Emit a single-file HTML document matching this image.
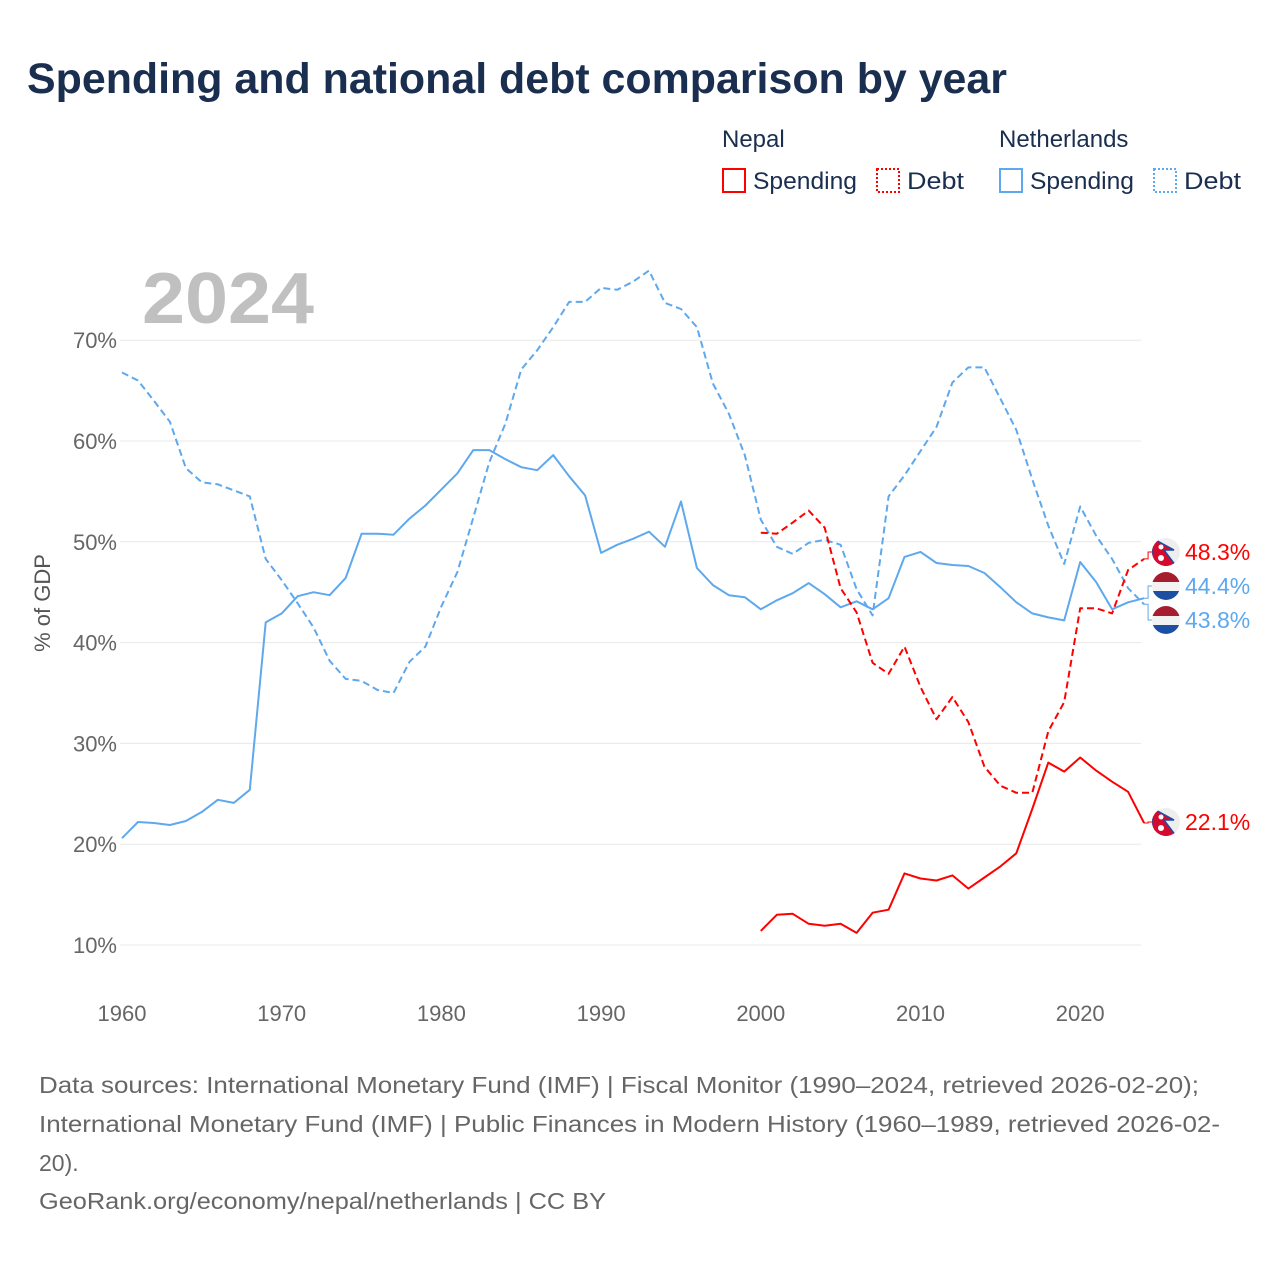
<!DOCTYPE html>
<html><head><meta charset="utf-8"><style>
html,body{margin:0;padding:0;background:#fff}
svg{display:block;font-family:"Liberation Sans",sans-serif}
</style></head><body>
<svg id="chart" width="1280" height="1280" viewBox="0 0 1280 1280">
<text x="27" y="93" font-size="43" font-weight="bold" fill="#1a2e4f" textLength="980" lengthAdjust="spacingAndGlyphs">Spending and national debt comparison by year</text>
<g font-size="24" fill="#1a2e4f">
<text x="722" y="147" fill="#1a2e4f">Nepal</text>
<text x="999" y="147" fill="#1a2e4f">Netherlands</text>
<g><rect x="723" y="169" width="22" height="23" fill="none" stroke="#ff0000" stroke-width="2"/><text x="753" y="189" fill="#1a2e4f" textLength="104" lengthAdjust="spacingAndGlyphs">Spending</text></g>
<g><rect x="877" y="169" width="22" height="23" fill="none" stroke="#ff0000" stroke-width="2" stroke-dasharray="2,2"/><text x="907" y="189" fill="#1a2e4f" textLength="57" lengthAdjust="spacingAndGlyphs">Debt</text></g>
<g><rect x="1000" y="169" width="22" height="23" fill="none" stroke="#5ea8ee" stroke-width="2"/><text x="1030" y="189" fill="#1a2e4f" textLength="104" lengthAdjust="spacingAndGlyphs">Spending</text></g>
<g><rect x="1154" y="169" width="22" height="23" fill="none" stroke="#5ea8ee" stroke-width="2" stroke-dasharray="2,2"/><text x="1184" y="189" fill="#1a2e4f" textLength="57" lengthAdjust="spacingAndGlyphs">Debt</text></g>
</g>
<text x="142" y="323" font-size="72" font-weight="bold" fill="#c0c0c0" textLength="172" lengthAdjust="spacingAndGlyphs">2024</text>
<g id="grid"></g>
<g id="yticks"></g>
<g id="xticks"></g>
<text transform="translate(50,603) rotate(-90)" text-anchor="middle" font-size="22" fill="#555">% of GDP</text>
<g id="series"></g>
<g id="labels"></g>
<g font-size="23" fill="#666">
<text x="39" y="1093" textLength="1160" lengthAdjust="spacingAndGlyphs">Data sources: International Monetary Fund (IMF) | Fiscal Monitor (1990–2024, retrieved 2026-02-20);</text>
<text x="39" y="1132" textLength="1181" lengthAdjust="spacingAndGlyphs">International Monetary Fund (IMF) | Public Finances in Modern History (1960–1989, retrieved 2026-02-</text>
<text x="39" y="1171">20).</text>
<text x="39" y="1209" textLength="567" lengthAdjust="spacingAndGlyphs">GeoRank.org/economy/nepal/netherlands | CC BY</text>
</g>
</svg>
<script>
const yTicks=[10,20,30,40,50,60,70];
const yTickLabels=["10%","20%","30%","40%","50%","60%","70%"];
const xTicks=[1960,1970,1980,1990,2000,2010,2020];
const nlYears=[1960,1961,1962,1963,1964,1965,1966,1967,1968,1969,1970,1971,1972,1973,1974,1975,1976,1977,1978,1979,1980,1981,1982,1983,1984,1985,1986,1987,1988,1989,1990,1991,1992,1993,1994,1995,1996,1997,1998,1999,2000,2001,2002,2003,2004,2005,2006,2007,2008,2009,2010,2011,2012,2013,2014,2015,2016,2017,2018,2019,2020,2021,2022,2023,2024];
const nlSpending=[20.6,22.2,22.1,21.9,22.3,23.2,24.4,24.1,25.4,42.0,42.9,44.6,45.0,44.7,46.4,50.8,50.8,50.7,52.3,53.6,55.2,56.8,59.1,59.1,58.2,57.4,57.1,58.6,56.5,54.6,48.9,49.7,50.3,51.0,49.5,54.0,47.4,45.7,44.7,44.5,43.3,44.2,44.9,45.9,44.8,43.5,44.1,43.3,44.4,48.5,49.0,47.9,47.7,47.6,46.9,45.5,44.0,42.9,42.5,42.2,48.0,46.0,43.3,44.0,44.4];
const nlDebt=[66.8,66.0,64.0,61.9,57.3,55.9,55.7,55.1,54.5,48.3,46.2,43.9,41.5,38.2,36.4,36.2,35.3,35.0,38.1,39.6,43.6,47.0,52.4,57.9,61.7,67.1,69.0,71.3,73.8,73.8,75.2,75.0,75.8,76.9,73.7,73.1,71.3,65.7,62.7,58.6,52.2,49.5,48.8,49.9,50.2,49.7,45.3,42.7,54.5,56.6,59.0,61.4,65.8,67.3,67.3,64.2,61.1,56.2,51.6,47.8,53.5,50.6,48.3,45.4,43.8];
const npYears=[2000,2001,2002,2003,2004,2005,2006,2007,2008,2009,2010,2011,2012,2013,2014,2015,2016,2017,2018,2019,2020,2021,2022,2023,2024];
const npSpending=[11.4,13.0,13.1,12.1,11.9,12.1,11.2,13.2,13.5,17.1,16.6,16.4,16.9,15.6,16.7,17.8,19.1,23.5,28.1,27.2,28.6,27.3,26.2,25.2,22.1];
const npDebt=[50.9,50.8,51.9,53.1,51.4,45.4,43.0,38.0,36.9,39.6,35.6,32.4,34.6,32.1,27.7,25.8,25.1,25.1,31.2,34.1,43.4,43.4,42.9,47.2,48.3];

const NS='http://www.w3.org/2000/svg';
const x=yr=>122+(yr-1960)*15.97;
const y=v=>945-(v-10)*10.08;
function mk(tag,attrs,parent){const e=document.createElementNS(NS,tag);for(const k in attrs)e.setAttribute(k,attrs[k]);parent.appendChild(e);return e;}
const grid=document.getElementById('grid'),yt=document.getElementById('yticks'),xt=document.getElementById('xticks');
yTicks.forEach((t,i)=>{
 const l=mk('line',{x1:120,x2:1141,y1:y(t),y2:y(t),stroke:'#e8e8e8','stroke-width':1},grid);
 
 
 const tx=mk('text',{x:117,y:y(t)+8,'text-anchor':'end','font-size':22,fill:'#666'},yt);
 tx.textContent=yTickLabels[i];
 
 
});
xTicks.forEach(t=>{
 const tx=mk('text',{x:x(t),y:1021,'text-anchor':'middle','font-size':22,fill:'#666'},xt);
 tx.textContent=t;
 
 
});
const ser=document.getElementById('series');
function line(years,vals,color,dash,name){
 const d=years.map((yr,i)=>(i?'L':'M')+x(yr).toFixed(1)+','+y(vals[i]).toFixed(1)).join(' ');
 const p=mk('path',{d:d,fill:'none',stroke:color,'stroke-width':2,'stroke-linejoin':'round'},ser);
 if(dash)p.setAttribute('stroke-dasharray','7,4');
 
 
}
line(nlYears,nlDebt,'#5ea8ee',true,'netherlands-debt-line');
line(nlYears,nlSpending,'#5ea8ee',false,'netherlands-spending-line');
line(npYears,npDebt,'#ff0000',true,'nepal-debt-line');
line(npYears,npSpending,'#ff0000',false,'nepal-spending-line');

const lab=document.getElementById('labels');
function endLabel(val,ly,color,flag,name){
 const lx=x(2024);
 const c=mk('path',{d:`M${lx},${y(val)} L${lx+4},${y(val)} L${lx+4},${ly} L${lx+10},${ly}`,fill:'none',stroke:color,'stroke-width':1},lab);
 
 
 const g=mk('g',{},lab);
 
 
 const cx=1166;
 const cp='cp'+name;
 const defs=mk('clipPath',{id:cp},g);mk('circle',{cx:cx,cy:ly,r:14},defs);
 const gg=mk('g',{'clip-path':`url(#${cp})`},g);
 if(flag==='np'){
  mk('rect',{x:cx-14,y:ly-14,width:28,height:28,fill:'#eee'},gg);
  mk('polygon',{points:`${cx-14},${ly-14} ${cx+8},${ly-2} ${cx-2},${ly-2} ${cx+10},${ly+14} ${cx-14},${ly+14}`,fill:'#d40a2f',stroke:'#1b4ea6','stroke-width':1.5},gg);
  mk('circle',{cx:cx-5,cy:ly-5,r:2.5,fill:'#fff'},gg);
  mk('circle',{cx:cx-5,cy:ly+6,r:3,fill:'#fff'},gg);
 }else{
  mk('rect',{x:cx-14,y:ly-14,width:28,height:10,fill:'#a71d30'},gg);
  mk('rect',{x:cx-14,y:ly-4,width:28,height:9,fill:'#f2f2f2'},gg);
  mk('rect',{x:cx-14,y:ly+5,width:28,height:10,fill:'#1c4fa3'},gg);
 }
 const t=mk('text',{x:1185,y:ly+8,'font-size':23,fill:color},lab);
 t.textContent=val.toFixed(1)+'%';
 
 
}
endLabel(npDebt[npDebt.length-1],552,'#ff0000','np','nepal-debt-label');
endLabel(nlSpending[nlSpending.length-1],586,'#5ea8ee','nl','netherlands-spending-label');
endLabel(nlDebt[nlDebt.length-1],620,'#5ea8ee','nl','netherlands-debt-label');
endLabel(npSpending[npSpending.length-1],822,'#ff0000','np','nepal-spending-label');
</script>
</body></html>
